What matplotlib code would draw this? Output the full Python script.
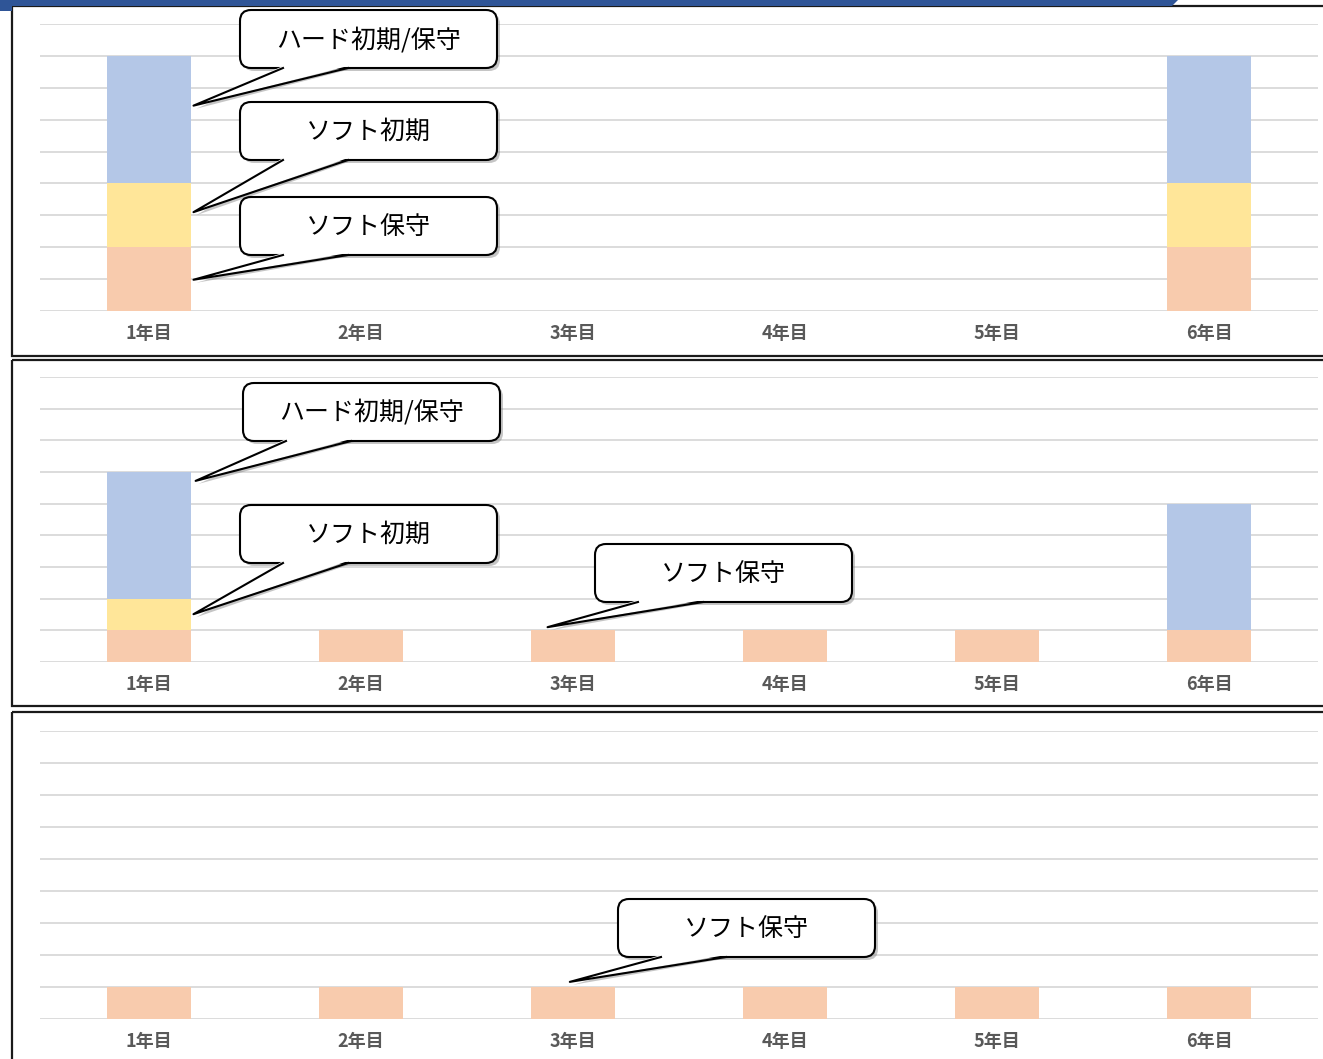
import matplotlib.pyplot as plt
from matplotlib.patches import FancyBboxPatch, Polygon, Rectangle

plt.rcParams['font.family'] = ['Noto Sans CJK JP', 'DejaVu Sans']

years = ['1年目', '2年目', '3年目', '4年目', '5年目', '6年目']
labels = {'hard': 'ハード初期/保守', 'init': 'ソフト初期', 'maint': 'ソフト保守'}

# 上段
p1_maint = [2, 0, 0, 0, 0, 2]
p1_init = [2, 0, 0, 0, 0, 2]
p1_hard = [4, 0, 0, 0, 0, 4]
# 中段
p2_maint = [1, 1, 1, 1, 1, 1]
p2_init = [1, 0, 0, 0, 0, 0]
p2_hard = [4, 0, 0, 0, 0, 4]
# 下段
p3_maint = [1, 1, 1, 1, 1, 1]
p3_init = [0, 0, 0, 0, 0, 0]
p3_hard = [0, 0, 0, 0, 0, 0]

colors = {'maint': '#F8CBAD', 'init': '#FFE699', 'hard': '#B4C7E7'}

W, H = 1323, 1059
fig = plt.figure(figsize=(W / 100, H / 100), dpi=100)

# ピクセル座標の重ね描き用
ov = fig.add_axes([0, 0, 1, 1], zorder=10)
ov.set_xlim(0, W)
ov.set_ylim(H, 0)
ov.axis('off')
ov.patch.set_visible(False)


def add_panel(top, base, maint, init, hard):
    ax = fig.add_axes([40 / W, (H - base) / H, (1318 - 40) / W, (base - top) / H])
    x = list(range(len(years)))
    stacks = {}
    bottom = [0] * len(x)
    for key, vals in (('maint', maint), ('init', init), ('hard', hard)):
        ax.bar(x, vals, 0.4, bottom=bottom, color=colors[key], zorder=2)
        stacks[key] = (list(bottom), list(vals))
        bottom = [b + v for b, v in zip(bottom, vals)]
    ax.set_xlim(-0.514, 5.514)
    ax.set_ylim(0, 9)
    ax.set_yticks(range(10))
    ax.grid(axis='y', color='#D9D9D9', lw=1.3, zorder=0)
    ax.set_axisbelow(True)
    ax.set_xticks(x)
    ax.set_xticklabels(years, fontsize=13, fontweight='bold', color='#595959')
    ax.tick_params(left=False, labelleft=False, bottom=False, pad=6)
    for s in ax.spines.values():
        s.set_visible(False)
    return ax, stacks


def to_px(ax, x, y):
    return ov.transData.inverted().transform(ax.transData.transform((x, y)))


def callout(text, left, top, tip, w=257, h=58, b0=43, b1=108):
    bot = top + h
    sh = 3
    style = 'round,pad=0,rounding_size=11'
    ov.add_patch(FancyBboxPatch((left + sh, top + sh), w, h, boxstyle=style,
                                fc='#7f7f7f', ec='none', alpha=0.45, zorder=1))
    ov.add_patch(Polygon([(left + b0 + sh, bot - 2 + sh), (left + b1 + sh, bot - 2 + sh),
                          (tip[0] + sh, tip[1] + sh)], closed=True,
                         fc='#7f7f7f', ec='none', alpha=0.45, zorder=1))
    ov.add_patch(FancyBboxPatch((left, top), w, h, boxstyle=style,
                                fc='white', ec='black', lw=1.5, zorder=2))
    ov.add_patch(Polygon([(left + b0, bot - 2), (left + b1, bot - 2), tuple(tip)],
                         closed=True, fc='white', ec='none', zorder=3))
    ov.plot([left + b0, tip[0], left + b1], [bot, tip[1], bot], color='black',
            lw=1.5, zorder=4, solid_joinstyle='round')
    ov.text(left + w / 2, top + h / 2 + 1, text, ha='center', va='center',
            fontsize=18, color='black', zorder=5)


# (系列, 年, 横ずれ, 区間内の高さ割合, 吹き出し左, 吹き出し上)
panels = [
    ((24, 311, p1_maint, p1_init, p1_hard),
     [('hard', 0, 0.21, 0.61, 240, 10),
      ('init', 0, 0.21, 0.55, 240, 102),
      ('maint', 0, 0.21, 0.49, 240, 197)]),
    ((377, 662, p2_maint, p2_init, p2_hard),
     [('hard', 0, 0.22, 0.93, 243, 383),
      ('init', 0, 0.21, 0.51, 240, 505),
      ('maint', 2, -0.12, 1.1, 595, 544)]),
    ((731, 1019, p3_maint, p3_init, p3_hard),
     [('maint', 2, -0.015, 1.16, 618, 899)]),
]

for args, notes in panels:
    ax, stacks = add_panel(*args)
    for key, i, dx, frac, bl, bt in notes:
        b, v = stacks[key][0][i], stacks[key][1][i]
        tip = to_px(ax, i + dx, b + frac * v)
        callout(labels[key], bl, bt, tip)

# 各段の枠
for top, bot in ((6, 356), (360, 706), (712, 1070)):
    ov.add_patch(Rectangle((12, top), 1340, bot - top, fill=False,
                           ec='#1a1a1a', lw=1.6, zorder=0))

# 上端の帯
ov.add_patch(Polygon([(0, 0), (1178, 0), (1172, 6), (12, 6), (12, 11), (0, 11)],
                     closed=True, fc='#2F5597', ec='none', zorder=0))

fig.savefig('out.png', dpi=100)
